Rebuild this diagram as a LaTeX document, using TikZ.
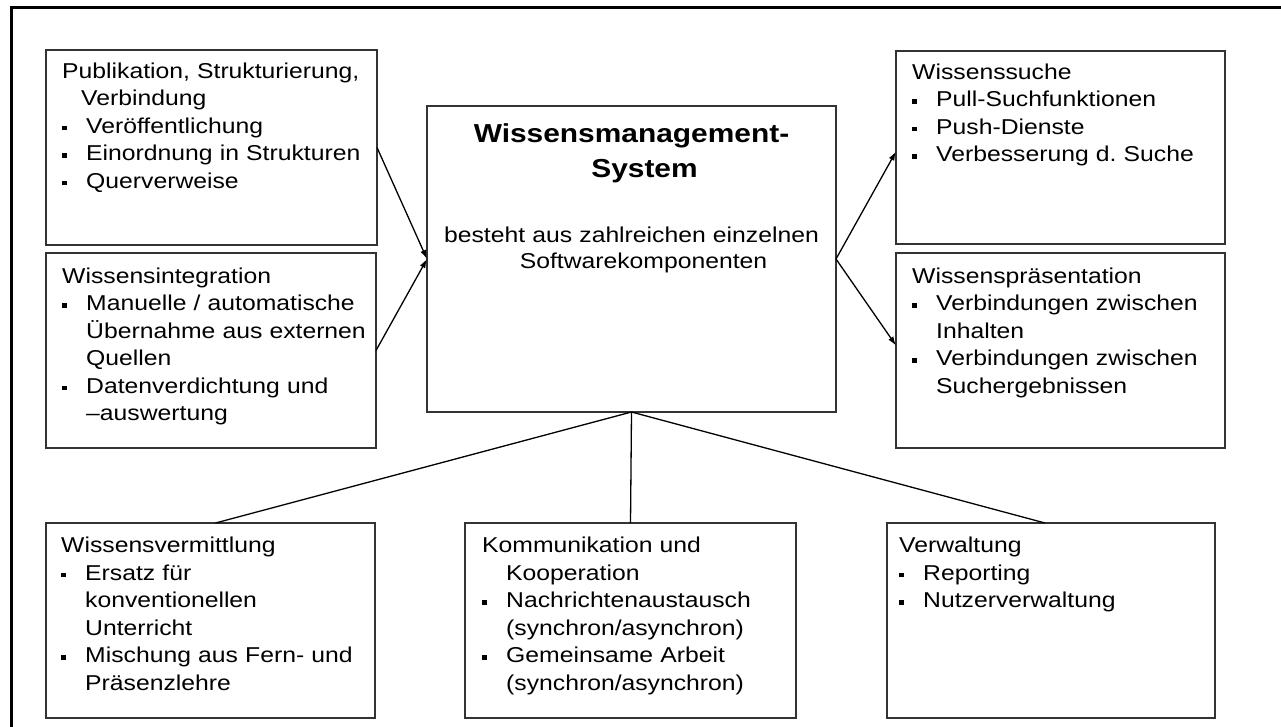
\documentclass[tikz,border=0pt]{standalone}
\usepackage{fontspec}
\setmainfont{Liberation Sans}[FakeStretch=1.15]
\usetikzlibrary{arrows.meta,calc}
\frenchspacing
\newcommand\fst{\rule{0pt}{22pt}}
\newcommand\tst{\rule{0pt}{28pt}}
\newcommand\bl[1]{\makebox[24pt][l]{\rule[3pt]{4.5pt}{4.5pt}}#1}
\newcommand\ct[1]{\hspace*{24pt}#1}
\begin{document}
\begin{tikzpicture}[x=1pt,y=-1pt,
  box/.style={draw=black!80, line width=1.8pt, fill=white, inner sep=0pt, outer sep=0pt, anchor=north west},
  txt/.style={inner sep=0pt, anchor=north west, text width=400pt, align=left, font=\fontsize{21.5pt}{27.5pt}\selectfont\frenchspacing},
  ttl/.style={inner sep=0pt, anchor=north, text width=400pt, align=center, font=\fontsize{26pt}{35pt}\selectfont\bfseries},
  body/.style={inner sep=0pt, anchor=north, text width=400pt, align=center, font=\fontsize{21.5pt}{26pt}\selectfont},
  conn/.style={draw=black, line width=1.3pt},
  arr/.style={conn, -{Latex[length=9pt,width=6pt]}}]
\useasboundingbox (0,0) rectangle (1281,726);
\fill[white] (0,0) rectangle (1281,726);
\draw[line width=3pt] (1290,7.3) -- (11.3,7.3) -- (11.3,735);

\node[box, minimum width=331pt, minimum height=195pt] (A) at (46,50) {};
\node[box, minimum width=330pt, minimum height=195pt] (B) at (46,253) {};
\node[box, minimum width=409pt, minimum height=306pt] (sys) at (427,106) {};
\node[box, minimum width=329pt, minimum height=193pt] (C) at (896,51) {};
\node[box, minimum width=329pt, minimum height=195pt] (D) at (896,253) {};
\node[box, minimum width=329pt, minimum height=195pt] (E) at (46,523) {};
\node[box, minimum width=331pt, minimum height=195pt] (F) at (465,523) {};
\node[box, minimum width=328pt, minimum height=195pt] (G) at (887,523) {};

\node[txt] (At) at ($(A.north west)+(16,6)$) {\fst Publikation, Strukturierung,\\\hspace*{19pt}Verbindung\\\bl{Veröffentlichung}\\\bl{Einordnung in Strukturen}\\\bl{Querverweise}};
\node[txt] (Bt) at ($(B.north west)+(16,8)$) {\fst Wissensintegration\\\bl{Manuelle / automatische}\\\ct{Übernahme aus externen}\\\ct{Quellen}\\\bl{Datenverdichtung und}\\\ct{–auswertung}};
\node[txt] (Ct) at ($(C.north west)+(16,6)$) {\fst Wissenssuche\\\bl{Pull-Suchfunktionen}\\\bl{Push-Dienste}\\\bl{Verbesserung d. Suche}};
\node[txt] (Dt) at ($(D.north west)+(16,8)$) {\fst Wissenspräsentation\\\bl{Verbindungen zwischen}\\\ct{Inhalten}\\\bl{Verbindungen zwischen}\\\ct{Suchergebnissen}};
\node[txt] (Et) at ($(E.north west)+(15,7.5)$) {\fst Wissensvermittlung\\\bl{Ersatz für}\\\ct{konventionellen}\\\ct{Unterricht}\\\bl{Mischung aus Fern- und}\\\ct{Präsenzlehre}};
\node[txt] (Ft) at ($(F.north west)+(17,7.5)$) {\fst Kommunikation und\\\ct{Kooperation}\\\bl{Nachrichtenaustausch}\\\ct{(synchron/asynchron)}\\\bl{Gemeinsame Arbeit}\\\ct{(synchron/asynchron)}};
\node[txt] (Gt) at ($(G.north west)+(12,7.5)$) {\fst Verwaltung\\\bl{Reporting}\\\bl{Nutzerverwaltung}};

\node[ttl] (st) at ($(sys.north)+(0,8)$) {\tst Wissensmanagement-\\\hspace*{26pt}System};
\node[body] (sb) at ($(sys.north)+(0,114)$) {\fst besteht aus zahlreichen einzelnen\\\hspace*{24pt}Softwarekomponenten};

\draw[arr] (A.east) -- (sys.west);
\draw[arr] (B.east) -- (sys.west);
\draw[arr] (sys.east) -- ([yshift=-4pt]C.west);
\draw[arr] (sys.east) -- ([yshift=5pt]D.west);
\draw[conn] (sys.south) -- ([xshift=5pt]E.north);
\draw[conn] (sys.south) -- (F.north);
\draw[conn] (sys.south) -- ([xshift=-6pt]G.north);
\end{tikzpicture}
\end{document}
